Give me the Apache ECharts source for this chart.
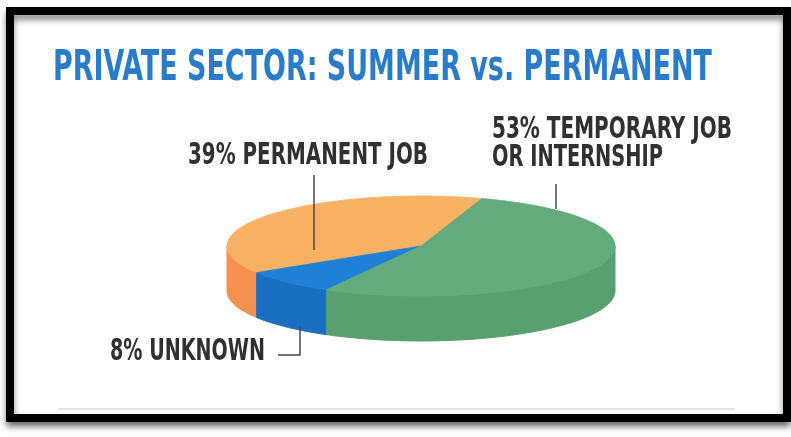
<!DOCTYPE html>
<html>
<head>
<meta charset="utf-8">
<script src="https://cdn.jsdelivr.net/npm/echarts@6/dist/echarts.min.js"></script>
<style>
  html, body { margin: 0; padding: 0; background: #fff; }
  #chart { width: 791px; height: 437px; }
</style>
</head>
<body>
<div id="chart"></div>
<script>
// ---- data ----
const titleText = 'PRIVATE SECTOR: SUMMER vs. PERMANENT';
const categories = ['PERMANENT JOB', 'UNKNOWN', 'TEMPORARY JOB OR INTERNSHIP'];
const shares = [39, 8, 53];
const labelLines = [
  ['PERMANENT JOB'],
  ['UNKNOWN'],
  ['TEMPORARY JOB', 'OR INTERNSHIP']
];

// ---- styles ----
const topColors  = ['#F9B264', '#1E80D6', '#63AB7D'];
const sideColors = ['#F4914F', '#1A6FC0', '#58A070'];
const FONT_FAMILY = "'Liberation Sans Narrow', 'DejaVu Sans Condensed', 'Liberation Sans', sans-serif";

// pie geometry: tilted disc
const PIE = { cx: 421, cy: 246, rx: 194, ry: 50, depth: 45, startAngle: 71.7 };

// label placement: left x, cap-centre y, font size, target width
const labelBoxes = [
  [{ x: 188, y: 156, size: 30, w: 240 }],
  [{ x: 110, y: 352.5, size: 30, w: 155 }],
  [{ x: 492, y: 130.5, size: 30, w: 240 }, { x: 492, y: 158.5, size: 30, w: 171 }]
];
const leaderPaths = [
  [[314, 175], [314, 250]],
  [[278, 355], [300, 355], [300, 326]],
  [[556, 184], [556, 209]]
];

// ---- helpers ----
const measureCtx = document.createElement('canvas').getContext('2d');
function condensedScale(text, font, targetWidth) {
  measureCtx.font = font;
  const w = measureCtx.measureText(text).width;
  return w > 0 ? targetWidth / w : 1;
}
function fittedText(text, box, color, weight) {
  const font = weight + ' ' + box.size + 'px ' + FONT_FAMILY;
  return {
    type: 'text',
    x: box.x, y: box.y,
    scaleX: condensedScale(text, font, box.w),
    style: { text: text, font: font, fill: color, align: 'left', verticalAlign: 'middle' },
    z: 10
  };
}

// slice angles from shares (counter-clockwise)
const total = shares.reduce((s, v) => s + v, 0);
const sliceStart = [], sliceEnd = [];
let acc = PIE.startAngle;
shares.forEach(v => {
  sliceStart.push(acc);
  acc += v / total * 360;
  sliceEnd.push(acc);
});

function pt(deg, dy) {
  const r = deg * Math.PI / 180;
  return [PIE.cx + PIE.rx * Math.cos(r), PIE.cy - PIE.ry * Math.sin(r) + (dy || 0)];
}
function arc(a, b, dy) {
  const pts = [];
  const n = Math.max(2, Math.ceil(Math.abs(b - a)));
  for (let k = 0; k <= n; k++) pts.push(pt(a + (b - a) * k / n, dy));
  return pts;
}

function renderSlice(params, api) {
  const i = params.dataIndex;
  const a0 = sliceStart[i], a1 = sliceEnd[i];
  const children = [];
  // front wall (visible where the rim faces the viewer: 180..360 deg)
  for (let k = 0; k < 2; k++) {
    const lo = Math.max(a0, 180 + 360 * k), hi = Math.min(a1, 360 + 360 * k);
    if (lo < hi) {
      const upper = arc(lo, hi, 0);
      const lower = arc(hi, lo, PIE.depth);
      children.push({
        type: 'polygon',
        shape: { points: upper.concat(lower) },
        style: { fill: sideColors[i], stroke: sideColors[i], lineWidth: 1 },
        z2: 1
      });
    }
  }
  // top face
  children.push({
    type: 'polygon',
    shape: { points: [[PIE.cx, PIE.cy]].concat(arc(a0, a1, 0)) },
    style: { fill: topColors[i], stroke: topColors[i], lineWidth: 0.8, lineJoin: 'round' },
    z2: 5
  });
  return { type: 'group', children: children };
}

// ---- graphic overlay: frame, title, labels, leaders ----
const graphics = [
  {
    type: 'rect', z: -5,
    shape: { x: 10, y: 11, width: 777, height: 407 },
    style: { fill: '#fff', stroke: '#000', lineWidth: 8,
             shadowBlur: 6, shadowOffsetY: 5, shadowColor: 'rgba(0,0,0,0.45)' }
  },
  {
    type: 'line', z: -4,
    shape: { x1: 58, y1: 409, x2: 735, y2: 409 },
    style: { stroke: '#e4e4ec', lineWidth: 2 }
  },
  fittedText(titleText, { x: 53, y: 69, size: 43, w: 659 }, '#2A7CCB', 'bold')
];
labelLines.forEach((lines, i) => {
  lines.forEach((line, j) => {
    const txt = j === 0 ? shares[i] + '% ' + line : line;
    graphics.push(fittedText(txt, labelBoxes[i][j], '#303030', 'bold'));
  });
  graphics.push({
    type: 'polyline', z: 10,
    shape: { points: leaderPaths[i] },
    style: { stroke: '#4a4a4a', lineWidth: 1.5, fill: null }
  });
});

const chart = echarts.init(document.getElementById('chart'), null, { renderer: 'canvas' });
chart.setOption({
  backgroundColor: '#fff',
  animation: false,
  series: [{
    type: 'custom',
    coordinateSystem: 'none',
    renderItem: renderSlice,
    data: shares.map((v, i) => ({ name: categories[i], value: v })),
    z: 2
  }],
  graphic: { elements: graphics }
});
</script>
</body>
</html>
